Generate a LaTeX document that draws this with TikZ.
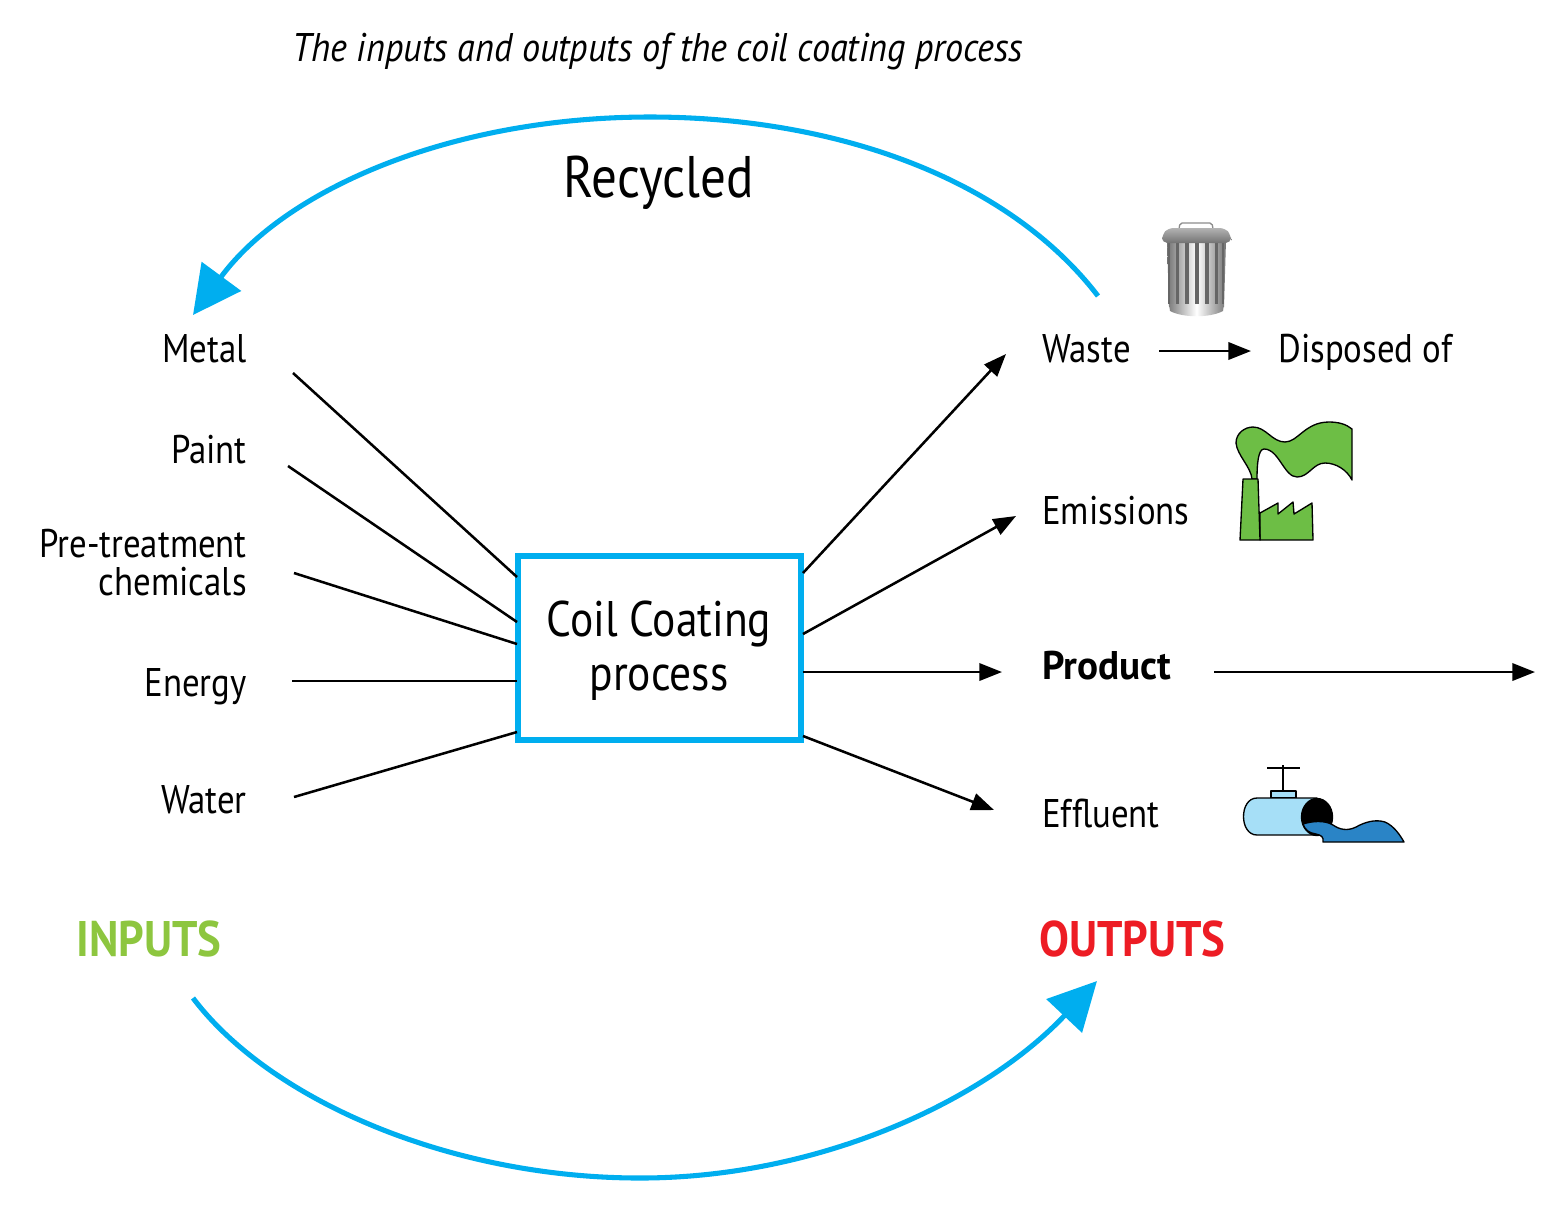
\documentclass[tikz,border=0pt]{standalone}
\usepackage{fontspec}
\setmainfont[FakeStretch=0.87,ItalicFeatures={FakeStretch=0.905},BoldFeatures={FakeStretch=0.895}]{PT Sans}
\newfontfamily\prodfont[FakeStretch=0.98]{PT Sans Bold}
\usetikzlibrary{arrows.meta}
\definecolor{cy}{HTML}{00AEEF}
\definecolor{gr}{HTML}{8DC63F}
\definecolor{rd}{HTML}{ED1C24}
\definecolor{fac}{HTML}{6DBE45}
\definecolor{pipeL}{HTML}{A6DFF7}
\definecolor{pipeD}{HTML}{2A84C6}
\tikzset{
 lab/.style={font=\fontsize{30}{30}\selectfont,inner sep=0pt},
 labl/.style={lab,anchor=base east},
 labr/.style={lab,anchor=base west},
 big/.style={inner sep=0pt,anchor=base,font=\fontsize{37.5}{37.5}\selectfont},
 head/.style={inner sep=0pt,anchor=base west,font=\fontsize{37.5}{37.5}\selectfont\bfseries},
 inl/.style={line width=1.9pt,black},
 outl/.style={line width=1.9pt,black,-{Triangle[length=17pt,width=13pt]}},
 bigarc/.style={line width=3.8pt,cy,-{Triangle[length=36pt,width=36pt]}},
 icon/.style={draw=black,line width=1pt,line join=round},
 slot/.style={fill=black!60},
}
\begin{document}
\begin{tikzpicture}[x=0.75pt,y=-0.75pt]
\useasboundingbox (0,0) rectangle (1565,1215);
\node[anchor=base west,inner sep=0pt,font=\fontsize{30}{30}\selectfont\itshape] (title) at (292,61) {The inputs and outputs of the coil coating process};
\node[big,font=\fontsize{44}{44}\selectfont] (rec) at (659,197) {Recycled};
\node[draw=cy,line width=3.8pt,inner sep=0pt,minimum width=283*0.75pt,minimum height=184*0.75pt] (box) at (659.5,648) {};
\node[big] (c1) at (659,636) {Coil Coating};
\node[big] (c2) at (659,690) {process};
\node[labl] (metal) at (247,362) {Metal};
\node[labl] (paint) at (247,463) {Paint};
\node[labl] (pre1) at (247,557) {Pre-treatment};
\node[labl] (pre2) at (247,595) {chemicals};
\node[labl] (energy) at (247,696) {Energy};
\node[labl] (water) at (247,813) {Water};
\node[labr] (waste) at (1042,362) {Waste};
\node[labr] (disp) at (1278,362) {Disposed of};
\node[labr] (emis) at (1042,524) {Emissions};
\node[labr,font=\fontsize{30}{30}\prodfont] (prod) at (1042,679) {Product};
\node[labr] (eff) at (1042,827) {Effluent};
\node[head,text=gr] (inp) at (76,956) {INPUTS};
\node[head,text=rd] (outp) at (1039,956) {OUTPUTS};
% connector ends
\foreach \n/\x/\y in {a1/293/373,a2/517/577,b1/288/466,b2/517/622,c1a/294/573,c2a/517/644,d1/292/681,d2/517/681,e1/294/797,e2/517/732,
 f1/803/573,f2/1006/354,g1/803/634,g2/1016/516,h1/803/672,h2/1002/672,i1/803/736,i2/994/810,j1/1159/351,j2/1251/351,k1/1214/672,k2/1535/672,
 r1/1098/296,r2/193/315,s1/193/998,s2/1097/981}
 {\coordinate (\n) at (\x,\y);}
\draw[inl] (a1)--(a2);
\draw[inl] (b1)--(b2);
\draw[inl] (c1a)--(c2a);
\draw[inl] (d1)--(d2);
\draw[inl] (e1)--(e2);
\draw[outl] (f1)--(f2);
\draw[outl] (g1)--(g2);
\draw[outl] (h1)--(h2);
\draw[outl] (i1)--(i2);
\draw[outl] (j1)--(j2);
\draw[outl] (k1)--(k2);
\draw[bigarc] (r1) .. controls (1005,175) and (830,117) .. (650,117) .. controls (450,117) and (285,190) .. (r2);
\draw[bigarc] (s1) .. controls (270,1100) and (450,1178) .. (640,1178) .. controls (820,1178) and (985,1100) .. (s2);
% trash can
\draw[black!45,line width=1pt,rounded corners=1.5pt] (1179,229) -- (1180,223) -- (1212,223) -- (1213,229);
\shade[left color=black!55,right color=black!55,middle color=white] (1167,240) -- (1226,240) -- (1224,307) -- (1169,307) -- cycle;
\foreach \x/\w in {1168/2,1176/3,1185/3.5,1195/3.5,1205/3.5,1215/3,1222/2}
 {\fill[slot] (\x,243) rectangle ++(\w,61);}
\shade[left color=black!50,right color=black!50,middle color=white] (1169,304) -- (1224,304) -- (1223,311) .. controls (1210,318) and (1183,318) .. (1170,311) -- cycle;
\shade[top color=black!30,bottom color=black!55,rounded corners=4pt] (1162,243) -- (1162,235) -- (1168,228) -- (1225,228) -- (1231,235) -- (1231,243) -- cycle;
% factory
\fill[fac,icon] (1252,479) .. controls (1251,467) and (1237,455) .. (1236,443) .. controls (1236,433) and (1245,427) .. (1253,427)
  .. controls (1266,427) and (1272,442) .. (1285,442) .. controls (1298,442) and (1305,422) .. (1329,422)
  .. controls (1338,422) and (1346,424) .. (1352,429) -- (1352,480) .. controls (1347,470) and (1336,463) .. (1325,463)
  .. controls (1313,463) and (1309,477) .. (1297,477) .. controls (1284,477) and (1279,449) .. (1264,449)
  .. controls (1258,449) and (1257,465) .. (1257,479) -- cycle;
\fill[fac,icon] (1260,513) -- (1278,503) -- (1278,514) -- (1293,502) -- (1294,514) -- (1312,503) -- (1313,540) -- (1260,540) -- cycle;
\fill[fac,icon] (1243,479) -- (1258,479) -- (1260,540) -- (1240,540) -- cycle;
% pipe
\draw[line width=1.4pt] (1267,768) -- (1300,768);
\draw[line width=1.4pt] (1283,765) -- (1283,791);
\fill[pipeL,icon] (1271,791) rectangle (1296,798);
\fill[pipeL,icon] (1317,798) -- (1257,798) .. controls (1239,798) and (1239,835) .. (1257,835) -- (1317,835) -- cycle;
\fill[black,icon] (1317,817) ellipse [x radius=15.5,y radius=18.5];
\fill[pipeD,icon] (1303,824) .. controls (1312,821) and (1325,820) .. (1333,825) .. controls (1340,830) and (1348,831) .. (1356,827)
  .. controls (1365,822) and (1375,819) .. (1385,822) .. controls (1394,826) and (1400,835) .. (1404,842) -- (1323,842)
  .. controls (1324,837) and (1321,835) .. (1316,834) .. controls (1309,833) and (1305,830) .. (1303,824) -- cycle;
\end{tikzpicture}
\end{document}
